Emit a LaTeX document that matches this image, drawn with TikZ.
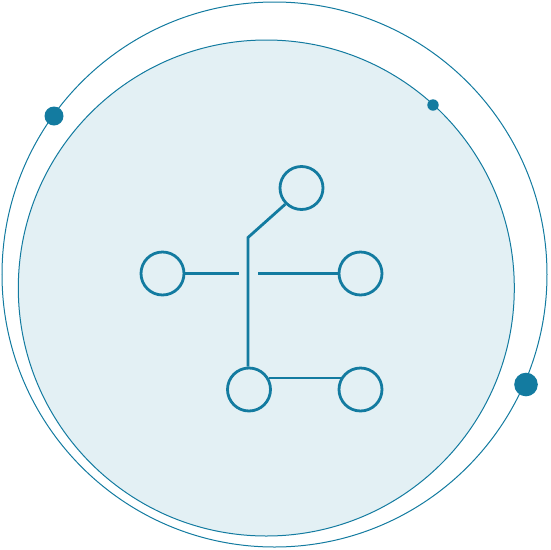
\documentclass[tikz,border=0pt]{standalone}
\definecolor{teal1}{HTML}{137BA0}
\definecolor{fillc}{HTML}{E3F0F4}
\begin{document}
\begin{tikzpicture}[x=1pt,y=-1pt,
  ring/.style={draw=teal1,line width=1pt},
  nd/.style={circle,draw=teal1,line width=2.8pt,minimum size=43pt,inner sep=0pt},
  link/.style={draw=teal1,line width=2.8pt},
  dot/.style={fill=teal1}]
\useasboundingbox (0,0) rectangle (550,550);
\draw[ring] (274.5,274.5) circle[radius=272.5];
\draw[ring,fill=fillc] (266.3,288) circle[radius=248];
\fill[dot] (54,116) circle[radius=9.5];
\fill[dot] (433,105) circle[radius=5.7];
\fill[dot] (526,384.5) circle[radius=11.8];
\node[nd] (t) at (301.5,188) {};
\node[nd] (l) at (162.5,273.5) {};
\node[nd] (r) at (360.5,273.5) {};
\node[nd] (bl) at (249,389.5) {};
\node[nd] (br) at (360.5,389.5) {};
\coordinate (j) at (248,237.5);
\coordinate (la) at (239,273.5);
\coordinate (ra) at (258,273.5);
\draw[link] (bl.north -| j) -- (j) -- (t.225);
\draw[link] (l.east) -- (la);
\draw[link] (ra) -- (r.west);
\draw[link] (bl.30) -- (bl.30 -| br.150);
\end{tikzpicture}
\end{document}
